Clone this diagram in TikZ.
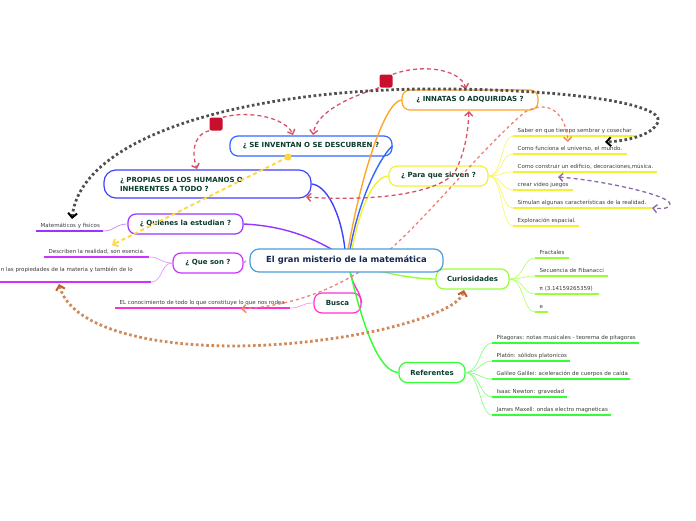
\documentclass[tikz,border=0pt]{standalone}
\usepackage{fontspec}
\setmainfont{DejaVu Sans}
\usetikzlibrary{arrows.meta,calc}
\definecolor{mainblue}{RGB}{74,158,218}
\definecolor{cinnatas}{RGB}{255,165,40}
\definecolor{cinvent}{RGB}{51,102,255}
\definecolor{cpropias}{RGB}{64,64,255}
\definecolor{cquienes}{RGB}{153,51,255}
\definecolor{cqueson}{RGB}{204,51,255}
\definecolor{cbusca}{RGB}{255,51,204}
\definecolor{cparaque}{RGB}{242,242,50}
\definecolor{ccurios}{RGB}{153,255,51}
\definecolor{crefer}{RGB}{51,255,51}
\definecolor{nodetxt}{RGB}{10,60,45}
\definecolor{maintxt}{RGB}{20,40,80}
\definecolor{leaftxt}{RGB}{60,60,60}
\definecolor{relred}{RGB}{217,80,106}
\definecolor{relsalmon}{RGB}{240,128,112}
\definecolor{relgold}{RGB}{255,215,60}
\definecolor{relpurple}{RGB}{138,106,168}
\definecolor{relgrey}{RGB}{80,80,80}
\definecolor{reltan}{RGB}{208,138,90}
\definecolor{tanarrow}{RGB}{192,96,48}
\definecolor{sqred}{RGB}{200,16,46}
\newcommand\leafitem[6]{%
  \coordinate (#1-a) at (#2,#4);
  \coordinate (#1-b) at (#3,#4);
  \node[leaftext] (#1) at ($(#1-a)+(4.5,-3.5)$) {#6};
  \draw[line width=1.8pt,#5] (#1-a) -- (#1-b);
}
\begin{document}
\begin{tikzpicture}[x=1pt,y=-1pt,
  branch/.style={draw, line width=1.2pt, rounded corners=8pt, fill=white,
    minimum height=20pt, inner sep=0pt, text=nodetxt,
    font=\fontsize{7}{9}\selectfont\bfseries},
  mainnode/.style={draw=mainblue, line width=1.2pt, rounded corners=9pt, fill=white,
    minimum width=193pt, minimum height=23pt, inner sep=0pt, text=maintxt,
    font=\fontsize{8.4}{10}\selectfont\bfseries},
  leaftext/.style={anchor=base west, inner sep=0pt, text=leaftxt,
    font=\fontsize{5.5}{6.6}\selectfont},
  trunk/.style={line width=1.4pt},
  twig/.style={line width=0.7pt},
  reldash/.style={line width=1.3pt, dash pattern=on 4pt off 3pt},
  reldot/.style={line width=2.8pt, dash pattern=on 2.6pt off 2.6pt},
  redtip/.style={-{Straight Barb[length=4pt,width=8pt,line width=1.4pt]}},
]
\useasboundingbox (0,0) rectangle (696,520);

% ---------- branch nodes ----------
\node[branch, draw=cinnatas, minimum width=136pt] (inn) at (470,100) {¿ INNATAS O ADQUIRIDAS ?};
\node[branch, draw=cinvent, minimum width=162pt] (inv) at (311,146) {¿ SE INVENTAN O SE DESCUBREN ?};
\node[branch, draw=cpropias, minimum width=207pt, minimum height=28pt, rounded corners=12pt,
  align=left, text width=175pt, font=\fontsize{7}{9}\selectfont\bfseries] (pro) at (207.5,184)
  {¿ PROPIAS DE LOS HUMANOS O\\INHERENTES A TODO ?};
\node[branch, draw=cquienes, minimum width=115pt] (qui) at (185.5,224) {¿ Quienes la estudian ?};
\node[branch, draw=cqueson, minimum width=70pt] (qs) at (208,263) {¿ Que son ?};
\node[branch, draw=cbusca, minimum width=47pt] (bu) at (337.5,303) {Busca};
\node[branch, draw=cparaque, minimum width=99pt] (pq) at (438.5,176) {¿ Para que sirven ?};
\node[branch, draw=ccurios, minimum width=73pt] (cu) at (472.5,279) {Curiosidades};
\node[branch, draw=crefer, minimum width=66pt] (re) at (432,372.5) {Referentes};

\coordinate (hubB) at (350,271);

% ---------- trunks ----------
\draw[trunk, cquienes] (qui.east) .. controls (285,226) and (312,238) .. (333,250);
\draw[trunk, cpropias] (pro.east) .. controls (326,185) and (341,212) .. (345,250);
\draw[trunk, cinvent] (inv.east) .. controls (384,152) and (360,192) .. (350,250);
\draw[trunk, cinnatas] (inn.west) .. controls (384,102) and (360,180) .. (348,250);
\draw[trunk, cparaque] (pq.west) .. controls (372,176) and (358,215) .. (352,250);
\draw[trunk, cqueson!60] (246,261) -- (qs.east);
\draw[trunk, cbusca] (hubB) .. controls (353,288) and (360,290) .. (bu.east);
\draw[trunk, crefer] (hubB) .. controls (358,305) and (375,372) .. (re.west);
\draw[trunk, ccurios] (360,266) .. controls (388,274) and (415,279) .. (cu.west);

% ---------- leaves ----------
\leafitem{s1}{513}{637}{136}{cparaque}{Saber en que tiempo sembrar y cosechar}
\leafitem{s2}{513}{627}{154}{cparaque}{Como funciona el universo, el mundo.}
\leafitem{s3}{513}{657}{172}{cparaque}{Como construir un edificio, decoraciones,música.}
\leafitem{s4}{513}{573}{190}{cparaque}{crear video juegos}
\leafitem{s5}{513}{652}{208}{cparaque}{Simulan algunas características de la realidad.}
\leafitem{s6}{513}{579}{226}{cparaque}{Exploración espacial.}
\foreach \k in {s1,s2,s3,s4,s5,s6}
  \draw[twig, cparaque!70] (pq.east) .. controls +(14,0) and +(-12,0) .. (\k-a);

\leafitem{c1}{535}{569}{258}{ccurios}{Fractales}
\leafitem{c2}{535}{608}{276}{ccurios}{Secuencia de Fibanacci}
\leafitem{c3}{535}{599}{294}{ccurios}{π (3.14159265359)}
\leafitem{c4}{535}{548}{312}{ccurios}{e}
\foreach \k in {c1,c2,c3,c4}
  \draw[twig, ccurios!70] (cu.east) .. controls +(14,0) and +(-12,0) .. (\k-a);

\leafitem{r1}{492}{639}{343}{crefer}{Pitagoras: notas musicales - teorema de pitagoras}
\leafitem{r2}{492}{570}{361}{crefer}{Platón: sólidos platonicos}
\leafitem{r3}{492}{630}{379}{crefer}{Galileo Galilei: aceleración de cuerpos de caída}
\leafitem{r4}{492}{567}{397}{crefer}{Isaac Newton: gravedad}
\leafitem{r5}{492}{611}{415}{crefer}{James Maxell: ondas electro magneticas}
\foreach \k in {r1,r2,r3,r4,r5}
  \draw[twig, crefer!60] (re.east) .. controls +(14,0) and +(-12,0) .. (\k-a);

\leafitem{ma}{36}{103}{231}{cquienes}{Matemáticos y fisicos}
\draw[twig, cquienes!60] (qui.west) .. controls +(-12,0) and +(12,0) .. (ma-b);

\leafitem{de}{44}{149}{257}{cqueson}{Describen la realidad, son esencia.}
\coordinate (pr-a) at (0,282);
\coordinate (pr-b) at (151,282);
\node[leaftext, anchor=base east] (prl) at (133,271) {n las propiedades de la materia y también de lo};
\draw[line width=1.8pt, cqueson] (pr-a) -- (pr-b);
\draw[twig, cqueson!50] (qs.west) .. controls +(-12,0) and +(12,0) .. (de-b);
\draw[twig, cqueson!50] (qs.west) .. controls +(-12,0) and +(12,0) .. (pr-b);

\leafitem{co}{115}{290}{308}{cbusca}{EL conocimiento de todo lo que constituye lo que nos rodea}
\draw[twig, cbusca!50] (bu.west) .. controls +(-12,0) and +(12,0) .. (co-b);

% ---------- relationships ----------
% salmon: conocimiento <-> Como funciona
\coordinate (salA) at (241,309);
\coordinate (salB) at (568,142);
\draw[relsalmon, line width=1.3pt, dash pattern=on 3pt off 3pt,
  {Straight Barb[length=4pt,width=8pt,line width=1.4pt]}-{Straight Barb[length=4pt,width=8pt,line width=1.4pt]}]
  (salA) .. controls (300,305) and (345,285) .. (385,254)
  .. controls (430,215) and (480,150) .. (525,112)
  .. controls (550,98) and (566,115) .. (salB);

% main node on top of the salmon link
\node[mainnode] (mn) at (346.5,260.5) {El gran misterio de la matemática};

% red squares and their links
\node[fill=sqred, rounded corners=2pt, minimum size=13pt, inner sep=0pt] (sq1) at (216,124) {};
\node[fill=sqred, rounded corners=2pt, minimum size=13pt, inner sep=0pt] (sq2) at (386,81) {};
\coordinate (innTop) at (466,89);
\coordinate (invTop1) at (293,135);
\coordinate (invTop2) at (313,135);
\coordinate (proTop) at (197,169);
\draw[relred, reldash, redtip] (sq2.north east) .. controls (420,64) and (460,68) .. (innTop);
\draw[relred, reldash, redtip] (sq2.south west) .. controls (340,100) and (316,115) .. (invTop2);
\draw[relred, reldash, redtip] (sq1.north east) .. controls (250,110) and (286,118) .. (invTop1);
\draw[relred, reldash, redtip] (sq1.south west) .. controls (192,135) and (192,155) .. (proTop);

% red: PROPIAS <-> INNATAS
\coordinate (proR) at (306,197);
\coordinate (innB) at (469,111);
\draw[relred, reldash,
  {Straight Barb[length=4pt,width=8pt,line width=1.4pt]}-{Straight Barb[length=4pt,width=8pt,line width=1.4pt]}]
  (proR) .. controls (380,202) and (440,192) .. (455,172)
  .. controls (466,150) and (468,130) .. (innB);

% yellow: SE INVENTAN -> Describen
\coordinate (yelA) at (288,157);
\coordinate (yelB) at (112,245);
\draw[relgold, line width=2pt, dash pattern=on 4pt off 3pt,
  -{Straight Barb[length=4pt,width=8pt,line width=1.8pt]}] (yelA) -- (yelB);
\fill[relgold] (yelA) circle (3.6pt);

% purple: crear video juegos <-> Simulan
\coordinate (purA) at (558,177);
\coordinate (purB) at (652,208);
\draw[relpurple, reldash,
  {Straight Barb[length=4pt,width=8pt,line width=1.4pt]}-{Straight Barb[length=4pt,width=8pt,line width=1.4pt]}]
  (purA) .. controls (600,180) and (670,195) .. (670,204)
  .. controls (670,209) and (660,209) .. (purB);

% grey dotted: Matemáticos <-> Saber
\coordinate (gA) at (72,219);
\coordinate (gB) at (605,142);
\draw[relgrey, reldot,
  {Straight Barb[length=4.5pt,width=9pt,line width=2pt,color=black]}-{Straight Barb[length=4.5pt,width=9pt,line width=2pt,color=black]}]
  (gA) .. controls (80,140) and (230,92) .. (420,89)
  .. controls (560,88) and (665,103) .. (658,122)
  .. controls (652,136) and (625,141) .. (gB);

% tan dotted: propiedades <-> Curiosidades
\coordinate (tA) at (59,284);
\coordinate (tB) at (464,290);
\draw[reltan, reldot,
  {Straight Barb[length=4.5pt,width=9pt,line width=2pt,color=tanarrow]}-{Straight Barb[length=4.5pt,width=9pt,line width=2pt,color=tanarrow]}]
  (tA) .. controls (75,345) and (230,362) .. (380,330)
  .. controls (430,318) and (460,305) .. (tB);
\end{tikzpicture}
\end{document}
